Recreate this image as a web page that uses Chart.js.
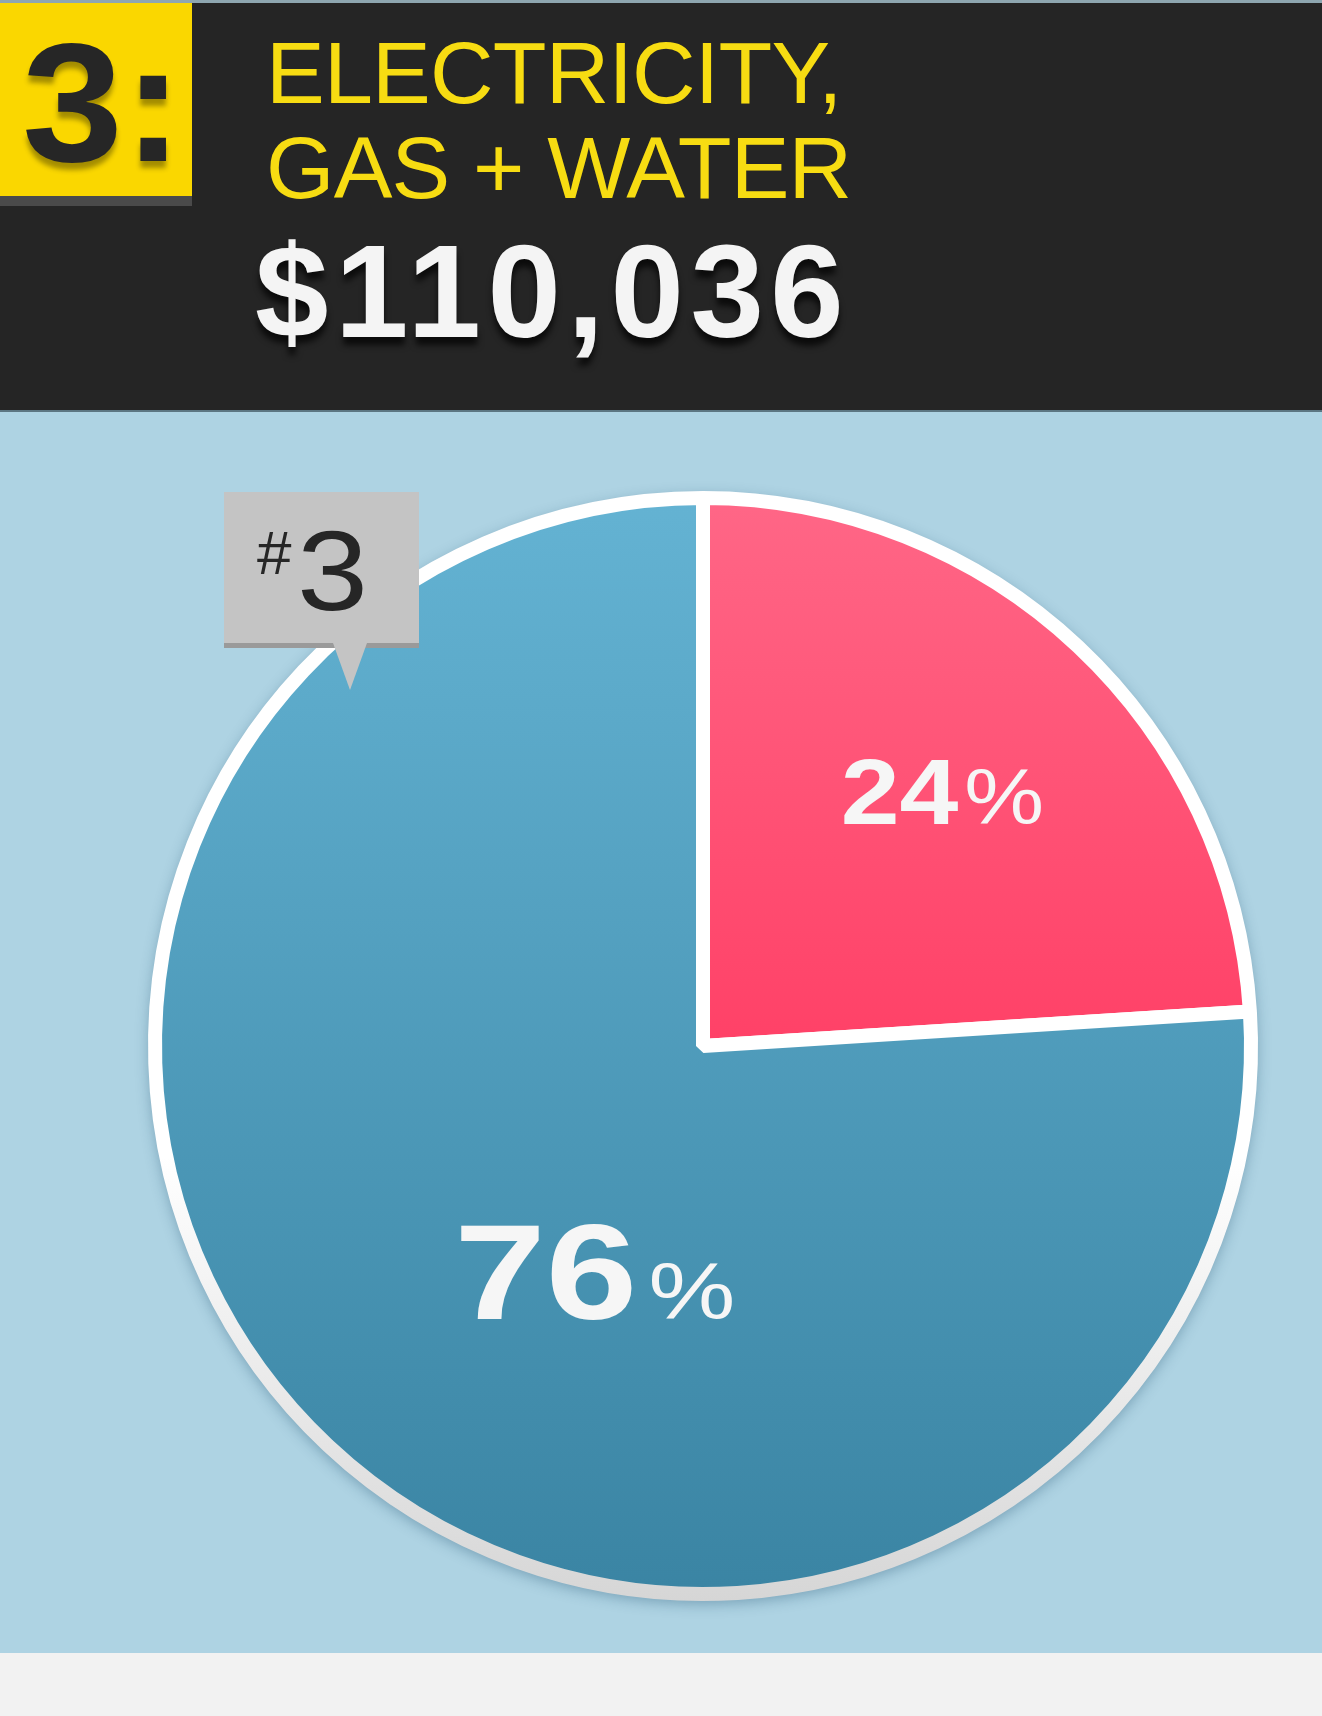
<!DOCTYPE html>
<html>
<head>
<meta charset="utf-8">
<script src="https://cdn.jsdelivr.net/npm/chart.js@4.4.0/dist/chart.umd.min.js"></script>
<style>
  html, body { margin: 0; padding: 0; }
  body { width: 1322px; height: 1716px; position: relative; overflow: hidden; background: #aed3e3; font-family: "Liberation Sans", Arial, sans-serif; }
  #header { position: absolute; left: 0; top: 0; width: 1322px; height: 412px; background: #252525; border-top: 3px solid #8ea6b0; box-sizing: border-box; border-bottom: 2px solid #5c7682; }
  #rank { position: absolute; left: 0; top: 0; width: 192px; height: 193px; background: #fad700; box-shadow: 0 10px 0 #4a4a4a; }
  #rank span { position: absolute; left: 22px; top: 16px; font-size: 168px; line-height: 168px; font-weight: bold; color: #262626; letter-spacing: 0px; text-shadow: 0 7px 5px rgba(60,50,0,0.45); transform: scaleX(1.08); transform-origin: 0 0; }
  .title { position: absolute; left: 266px; font-size: 88px; line-height: 88px; color: #f7dc12; letter-spacing: -0.8px; white-space: nowrap; }
  #amount { position: absolute; left: 255px; top: 223px; font-size: 132px; line-height: 132px; font-weight: bold; color: #f4f4f4; letter-spacing: 6.5px; text-shadow: 0 8px 6px rgba(0,0,0,0.7); white-space: nowrap; }
  #footer { position: absolute; left: 0; top: 1653px; width: 1322px; height: 63px; background: #f2f2f2; }
  #pie { position: absolute; left: 128px; top: 471px; }
  #tag { position: absolute; left: 224px; top: 492px; width: 195px; height: 151px; background: #c4c4c4; box-shadow: 0 5px 0 #9a9a9a; }
  #tag:after { content: ""; position: absolute; left: 109px; top: 151px; border-left: 17px solid transparent; border-right: 17px solid transparent; border-top: 47px solid #c4c4c4; }
  #tag .h { position: absolute; left: 33px; top: 30px; font-size: 62px; line-height: 62px; color: #262626; }
  #tag .n { position: absolute; left: 73px; top: 22px; font-size: 114px; line-height: 114px; color: #262626; transform: scaleX(1.12); transform-origin: 0 0; }
</style>
</head>
<body>
<div id="header">
  <div id="rank"><span>3:</span></div>
  <div class="title" style="top:26px">ELECTRICITY,</div>
  <div class="title" style="top:121px">GAS + WATER</div>
  <div id="amount">$110,036</div>
</div>
<canvas id="pie" width="1150" height="1150"></canvas>
<div id="tag"><span class="h">#</span><span class="n">3</span></div>
<div id="footer"></div>
<script>
// slice data, clockwise from the top
const categories = ['Share A', 'Share B'];
const shares = [24, 76];
const shareLabels = ['24', '76'];

// gradient stops per slice: [top colour, bottom colour]
const sliceColours = [['#ff6787', '#ff4167'], ['#64b3d3', '#3a84a3']];
// where each label sits: fraction along the arc, fraction of radius, digit size, % size, gap, stretch
const labelSpots = [
  { at: 0.5, dist: 0.63, size: 92, pct: 78, gap: 6, stretch: 1.15 },
  { at: 0.436, dist: 0.45, size: 135, pct: 80, gap: 11, stretch: 1.22 }
];

function sliceFill(c) {
  const area = c.chart.chartArea;
  if (!area) return sliceColours[c.dataIndex][1];
  const ctx = c.chart.ctx;
  const top = area.top;
  const bottom = c.dataIndex === 0 ? (area.top + area.bottom) / 2 : area.bottom;
  const g = ctx.createLinearGradient(0, top, 0, bottom);
  g.addColorStop(0, sliceColours[c.dataIndex][0]);
  g.addColorStop(1, sliceColours[c.dataIndex][1]);
  return g;
}

function ringColour(c) {
  const area = c.chart.chartArea;
  if (!area) return '#ffffff';
  const g = c.chart.ctx.createLinearGradient(0, area.top, 0, area.bottom);
  g.addColorStop(0, '#ffffff');
  g.addColorStop(0.6, '#ffffff');
  g.addColorStop(1, '#d6d6d6');
  return g;
}

const shadowPlugin = {
  id: 'pieShadow',
  beforeDatasetsDraw(chart) {
    const arc = chart.getDatasetMeta(0).data[0];
    if (!arc) return;
    const ctx = chart.ctx;
    ctx.save();
    ctx.shadowColor = 'rgba(20,70,100,0.35)';
    ctx.shadowBlur = 14;
    ctx.shadowOffsetY = 4;
    ctx.fillStyle = '#d8d8d8';
    ctx.beginPath();
    ctx.arc(arc.x, arc.y, arc.outerRadius + 6, 0, Math.PI * 2);
    ctx.fill();
    ctx.restore();
  }
};

const labelPlugin = {
  id: 'sliceLabels',
  afterDatasetsDraw(chart) {
    const ctx = chart.ctx;
    chart.getDatasetMeta(0).data.forEach((arc, i) => {
      const spot = labelSpots[i];
      const a = arc.startAngle + (arc.endAngle - arc.startAngle) * spot.at;
      const r = (arc.outerRadius + 7) * spot.dist;
      const cx = arc.x + Math.cos(a) * r;
      const cy = arc.y + Math.sin(a) * r;
      const boldFont = 'bold ' + spot.size + 'px "Liberation Sans", Arial, sans-serif';
      const pctFont = spot.pct + 'px "Liberation Sans", Arial, sans-serif';
      ctx.save();
      ctx.fillStyle = '#f6f6f6';
      ctx.textBaseline = 'alphabetic';
      ctx.font = boldFont;
      const w1 = ctx.measureText(shareLabels[i]).width;
      ctx.font = pctFont;
      const w2 = ctx.measureText('%').width;
      const total = (w1 + w2) * spot.stretch + spot.gap;
      const base = cy + spot.size * 0.716 / 2;
      ctx.translate(cx - total / 2, base);
      ctx.scale(spot.stretch, 1);
      ctx.font = boldFont;
      ctx.fillText(shareLabels[i], 0, 0);
      ctx.font = pctFont;
      ctx.fillText('%', w1 + spot.gap / spot.stretch, 0);
      ctx.restore();
    });
  }
};

new Chart(document.getElementById('pie'), {
  type: 'pie',
  data: {
    labels: categories,
    datasets: [{
      data: shares,
      backgroundColor: sliceFill,
      borderColor: ringColour,
      borderWidth: 14,
      borderAlign: 'center',
      hoverOffset: 0
    }]
  },
  options: {
    responsive: false,
    animation: false,
    devicePixelRatio: 1,
    layout: { padding: 20 },
    plugins: { legend: { display: false }, tooltip: { enabled: false } }
  },
  plugins: [shadowPlugin, labelPlugin]
});
</script>
</body>
</html>
